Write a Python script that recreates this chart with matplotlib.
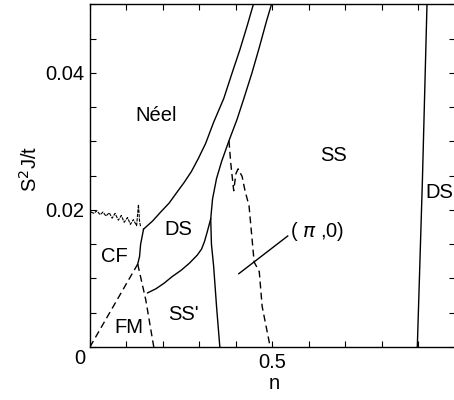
import numpy as np
import matplotlib
matplotlib.use("Agg")
import matplotlib.pyplot as plt
from matplotlib.ticker import MultipleLocator, FixedLocator

plt.rcParams['font.family'] = ['Liberation Sans', 'DejaVu Sans']
plt.rcParams['mathtext.fontset'] = 'dejavusans'

# phase boundaries (n, S^2 J/t)
neel_n = [0.147, 0.172, 0.194, 0.217, 0.236, 0.258, 0.278, 0.297, 0.317,
          0.339, 0.367, 0.389, 0.411, 0.431, 0.450, 0.453]
neel_y = [0.0172, 0.0184, 0.0197, 0.0210, 0.0224, 0.0240, 0.0256, 0.0275, 0.0297,
          0.0328, 0.0363, 0.0399, 0.0434, 0.0469, 0.0504, 0.0510]

ss_n = [0.503, 0.483, 0.464, 0.444, 0.422, 0.403, 0.381, 0.361, 0.347, 0.336,
        0.331, 0.333, 0.339, 0.347, 0.356]
ss_y = [0.0510, 0.0474, 0.0437, 0.0400, 0.0363, 0.0332, 0.0301, 0.0271, 0.0246,
        0.0216, 0.0187, 0.0150, 0.0118, 0.0059, 0.0]

ds_ssp_n = [0.331, 0.322, 0.314, 0.306, 0.294, 0.272, 0.250, 0.226, 0.203, 0.181, 0.158]
ds_ssp_y = [0.0187, 0.0169, 0.0154, 0.0143, 0.0134, 0.0122, 0.0112, 0.0103, 0.0093,
            0.0085, 0.0079]

cf_ds_n = [0.131, 0.136, 0.139, 0.147]
cf_ds_y = [0.0121, 0.0132, 0.0150, 0.0172]

ds_right_n = [0.924, 0.911, 0.897]
ds_right_y = [0.0510, 0.0244, 0.0]

# dashed boundaries
cf_fm_n = [0.0, 0.131]
cf_fm_y = [0.0, 0.0121]

fm_ssp_n = [0.131, 0.153, 0.175]
fm_ssp_y = [0.0121, 0.0069, 0.0]

pi0_n = [0.381, 0.386, 0.394, 0.400, 0.406, 0.417, 0.425, 0.436, 0.450, 0.464, 0.472, 0.494]
pi0_y = [0.0301, 0.0268, 0.0228, 0.0253, 0.0260, 0.0249, 0.0228, 0.0206, 0.0124, 0.0110, 0.0059, 0.0]

# noisy CF / Neel boundary
noisy_n = [0.003, 0.011, 0.019, 0.028, 0.036, 0.044, 0.053, 0.061, 0.069, 0.078,
           0.086, 0.094, 0.103, 0.111, 0.119, 0.128, 0.133, 0.136, 0.139]
noisy_y = [0.0197, 0.0195, 0.0199, 0.0193, 0.0197, 0.0191, 0.0196, 0.0188, 0.0195, 0.0185,
           0.0192, 0.0182, 0.0189, 0.0179, 0.0186, 0.0177, 0.0208, 0.0184, 0.0175]

# leader line for the (pi,0) label
leader_n = [0.408, 0.542]
leader_y = [0.0107, 0.0162]

# region labels
labels = ["Néel", "SS", "DS", "DS", "CF", "FM", "SS'"]
label_n = [0.181, 0.667, 0.958, 0.242, 0.067, 0.108, 0.256]
label_y = [0.0338, 0.0279, 0.0226, 0.0172, 0.0132, 0.0029, 0.0047]

fig = plt.figure(figsize=(4.54, 4.00), dpi=100)
ax = fig.add_axes([0.198, 0.1325, 0.804, 0.8565])

lw = 1.0
for xs, ys in [(neel_n, neel_y), (ss_n, ss_y), (ds_ssp_n, ds_ssp_y),
               (cf_ds_n, cf_ds_y), (ds_right_n, ds_right_y), (leader_n, leader_y)]:
    ax.plot(xs, ys, color='black', lw=lw)

for xs, ys in [(cf_fm_n, cf_fm_y), (fm_ssp_n, fm_ssp_y), (pi0_n, pi0_y)]:
    ax.plot(xs, ys, color='black', lw=lw, linestyle=(0, (5, 3)))

ax.plot(noisy_n, noisy_y, color='black', lw=0.8, linestyle=(0, (3, 1)))

for t, xv, yv in zip(labels, label_n, label_y):
    ax.text(xv, yv, t, fontsize=14.5, ha='center', va='center')
ax.text(0.547, 0.0168, r"( $\pi$ ,0)", fontsize=14.5, ha='left', va='center')

ax.set_xlim(0, 1.0)
ax.set_ylim(0, 0.05)

ax.xaxis.set_major_locator(FixedLocator([0.5]))
ax.xaxis.set_minor_locator(MultipleLocator(0.1))
ax.yaxis.set_major_locator(FixedLocator([0.02, 0.04]))
ax.yaxis.set_minor_locator(MultipleLocator(0.005))
ax.set_xticklabels(["0.5"])
ax.set_yticklabels(["0.02", "0.04"])
ax.tick_params(which='both', direction='in', top=True, right=True, length=4,
               width=0.8, labelsize=14.5)
ax.tick_params(axis='x', pad=4)
ax.tick_params(axis='y', pad=4)
ax.text(-0.012, -0.035, "0", transform=ax.transAxes, fontsize=14.5,
        ha='right', va='center')

for s in ax.spines.values():
    s.set_linewidth(1.0)

ax.set_xlabel("n", fontsize=14.5)
ax.xaxis.set_label_coords(0.505, -0.08)
ax.set_ylabel(r"S$^2$J/t", fontsize=14.5)
ax.yaxis.set_label_coords(-0.135, 0.52)

fig.savefig("out.png", dpi=100)
